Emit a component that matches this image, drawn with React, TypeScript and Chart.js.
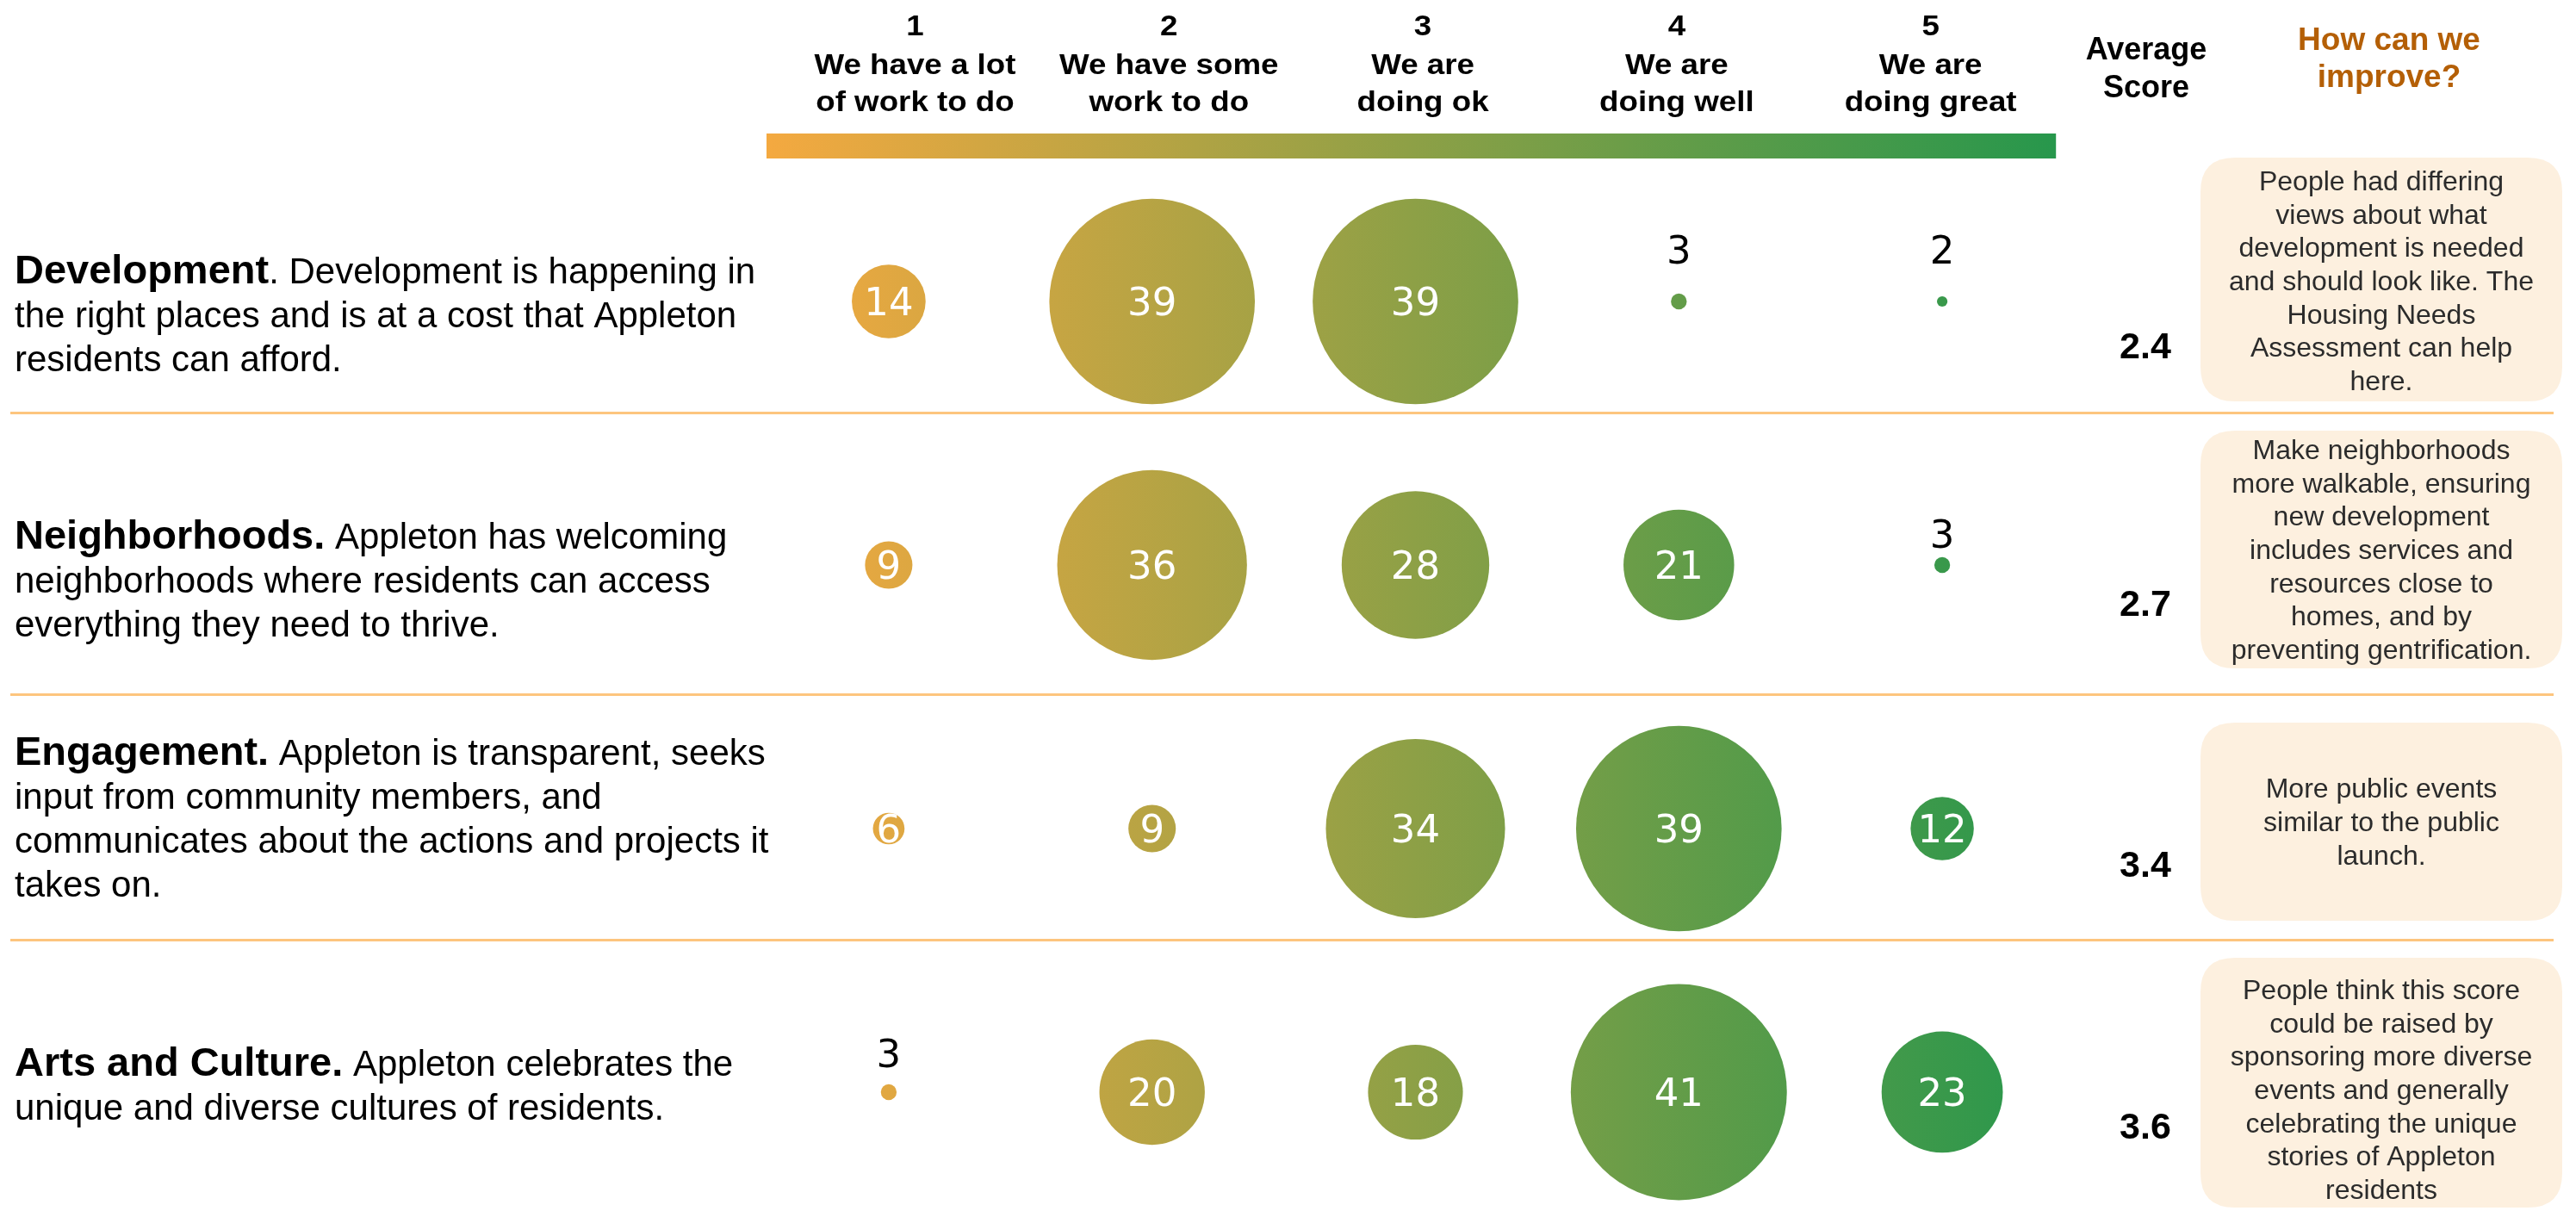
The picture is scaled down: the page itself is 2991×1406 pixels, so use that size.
import React, { useEffect, useRef } from 'react';
import { Chart, registerables } from 'chart.js';

Chart.register(...registerables);

// ---------- data ----------
const SCALE_NUMBERS = ['1', '2', '3', '4', '5'];
const SCALE_LABELS = [
  ['We have a lot', 'of work to do'],
  ['We have some', 'work to do'],
  ['We are', 'doing ok'],
  ['We are', 'doing well'],
  ['We are', 'doing great'],
];
const CATEGORIES = ['Development', 'Neighborhoods', 'Engagement', 'Arts and Culture'];
const DEVELOPMENT = [14, 39, 39, 3, 2];
const NEIGHBORHOODS = [9, 36, 28, 21, 3];
const ENGAGEMENT = [6, 9, 34, 39, 12];
const ARTS_AND_CULTURE = [3, 20, 18, 41, 23];
const AVERAGE_SCORES = ['2.4', '2.7', '3.4', '3.6'];
const ROW_TITLES = ['Development', 'Neighborhoods.', 'Engagement.', 'Arts and Culture.'];
const ROW_TEXT = [
  ['. Development is happening in', 'the right places and is at a cost that Appleton', 'residents can afford.'],
  [' Appleton has welcoming', 'neighborhoods where residents can access', 'everything they need to thrive.'],
  [' Appleton is transparent, seeks', 'input from community members, and', 'communicates about the actions and projects it', 'takes on.'],
  [' Appleton celebrates the', 'unique and diverse cultures of residents.'],
];
const IMPROVEMENTS = [
  ['People had differing', 'views about what', 'development is needed', 'and should look like. The', 'Housing Needs', 'Assessment can help', 'here.'],
  ['Make neighborhoods', 'more walkable, ensuring', 'new development', 'includes services and', 'resources close to', 'homes, and by', 'preventing gentrification.'],
  ['More public events', 'similar to the public', 'launch.'],
  ['People think this score', 'could be raised by', 'sponsoring more diverse', 'events and generally', 'celebrating the unique', 'stories of Appleton', 'residents'],
];
const SERIES = [DEVELOPMENT, NEIGHBORHOODS, ENGAGEMENT, ARTS_AND_CULTURE];

// ---------- layout / style ----------
const W = 2991;
const H = 1406;
const FONT = '"Liberation Sans", Arial, Helvetica, sans-serif';
const NUM_FONT = '"DejaVu Sans", sans-serif';
const BAR_START = 0.536;
const BAR_END = 5.432;
const RADIUS_PER_UNIT = 3.06;
const SEPARATOR_POS = [0.42, 1.49, 2.42];
const ROW_TEXT_DY = [-21, -19, -74, -19];
const SCORE_DY = [66, 59, 56, 54];
const BOX_TOP_DY = [-167, -156, -123, -156];
const BOX_BOTTOM_DY = [116, 120, 107, 134];
const BOX_TEXT_DY = [-24, -18, -8, -3];
const LABEL_DY = [-44, -20, -30, -29];
const GRAD_LEFT = '#f4a940';
const GRAD_RIGHT = '#27974c';

function makeGradient(ctx: CanvasRenderingContext2D, x0: number, x1: number) {
  const g = ctx.createLinearGradient(x0, 0, x1, 0);
  g.addColorStop(0, GRAD_LEFT);
  g.addColorStop(1, GRAD_RIGHT);
  return g;
}

function roundRect(ctx: CanvasRenderingContext2D, x: number, y: number, w: number, h: number, r: number) {
  ctx.beginPath();
  ctx.moveTo(x + r, y);
  ctx.lineTo(x + w - r, y);
  ctx.quadraticCurveTo(x + w, y, x + w, y + r);
  ctx.lineTo(x + w, y + h - r);
  ctx.quadraticCurveTo(x + w, y + h, x + w - r, y + h);
  ctx.lineTo(x + r, y + h);
  ctx.quadraticCurveTo(x, y + h, x, y + h - r);
  ctx.lineTo(x, y + r);
  ctx.quadraticCurveTo(x, y, x + r, y);
  ctx.closePath();
}

const overlayPlugin = {
  id: 'overlay',
  beforeDatasetsDraw(chart: any) {
    const ctx: CanvasRenderingContext2D = chart.ctx;
    const xs = chart.scales.x;
    const ys = chart.scales.y;
    ctx.save();

    // gradient bar
    const bx0 = xs.getPixelForValue(BAR_START);
    const bx1 = xs.getPixelForValue(BAR_END);
    ctx.fillStyle = makeGradient(ctx, bx0, bx1);
    ctx.fillRect(bx0, 155, bx1 - bx0, 29);

    // column headers
    ctx.fillStyle = '#000';
    ctx.textAlign = 'center';
    ctx.textBaseline = 'alphabetic';
    ctx.font = `bold 34px ${FONT}`;
    SCALE_NUMBERS.forEach((num, i) => {
      const cx = xs.getPixelForValue(1.1 + 0.964 * i);
      const lines = [num, ...SCALE_LABELS[i]];
      const bases = [41, 86, 129];
      lines.forEach((t, k) => {
        ctx.save();
        ctx.translate(cx, bases[k]);
        ctx.scale(1.08, 1);
        ctx.fillText(t, 0, 0);
        ctx.restore();
      });
    });

    // Average Score header
    ctx.font = `bold 36px ${FONT}`;
    ctx.fillStyle = '#000';
    ctx.fillText('Average', 2492, 69);
    ctx.fillText('Score', 2492, 113);

    // How can we improve header
    ctx.font = `bold 37px ${FONT}`;
    ctx.fillStyle = '#b45f06';
    ctx.fillText('How can we', 2774, 58);
    ctx.fillText('improve?', 2774, 101);

    // separators
    ctx.strokeStyle = '#fdc57e';
    ctx.lineWidth = 3;
    SEPARATOR_POS.forEach((p) => {
      const y = Math.round(ys.getPixelForValue(p)) + 0.5;
      ctx.beginPath();
      ctx.moveTo(12, y);
      ctx.lineTo(2965, y);
      ctx.stroke();
    });

    CATEGORIES.forEach((_, row) => {
      const cy = ys.getPixelForValue(row);

      // row description
      ctx.textAlign = 'left';
      ctx.fillStyle = '#000';
      const first = cy + ROW_TEXT_DY[row];
      ctx.font = `bold 47px ${FONT}`;
      ctx.fillText(ROW_TITLES[row], 17, first);
      const tw = ctx.measureText(ROW_TITLES[row]).width;
      ctx.font = `42px ${FONT}`;
      ROW_TEXT[row].forEach((line, k) => {
        if (k === 0) ctx.fillText(line, 17 + tw, first);
        else ctx.fillText(line, 17, first + k * 51);
      });

      // average score
      ctx.textAlign = 'center';
      ctx.font = `bold 43px ${FONT}`;
      ctx.fillText(AVERAGE_SCORES[row], 2491, cy + SCORE_DY[row]);

      // improvement box
      const lines = IMPROVEMENTS[row];
      const lh = 38.7;
      const top = cy + BOX_TOP_DY[row];
      const bottom = cy + BOX_BOTTOM_DY[row];
      ctx.fillStyle = '#fdf0df';
      roundRect(ctx, 2555, top, 420, bottom - top, 40);
      ctx.fill();
      ctx.fillStyle = '#2b2b2b';
      ctx.font = `32px ${FONT}`;
      const tc = cy + BOX_TEXT_DY[row];
      const l0 = tc - ((lines.length - 1) / 2) * lh;
      lines.forEach((t, k) => ctx.fillText(t, 2765, l0 + k * lh + 11));
    });

    ctx.restore();
  },
  afterDatasetsDraw(chart: any) {
    const ctx: CanvasRenderingContext2D = chart.ctx;
    const meta = chart.getDatasetMeta(0);
    const data = chart.data.datasets[0].data;
    ctx.save();
    ctx.font = `45px ${NUM_FONT}`;
    ctx.textAlign = 'center';
    ctx.textBaseline = 'alphabetic';
    meta.data.forEach((el: any, i: number) => {
      const p = data[i];
      if (p.v >= 5) {
        ctx.fillStyle = '#ffffff';
        ctx.fillText(String(p.v), el.x, el.y + 16);
      } else {
        ctx.fillStyle = '#000000';
        ctx.fillText(String(p.v), el.x, el.y + LABEL_DY[p.y]);
      }
    });
    ctx.restore();
  },
};

export default function App() {
  const ref = useRef<HTMLCanvasElement | null>(null);

  useEffect(() => {
    document.body.style.margin = '0';
    const canvas = ref.current;
    if (!canvas) return;
    const points = SERIES.flatMap((vals, row) => vals.map((v, col) => ({ x: col + 1, y: row, v })));
    const chart = new Chart(canvas, {
      type: 'bubble',
      data: {
        datasets: [
          {
            label: 'Responses',
            data: points as any,
            clip: false as any,
            borderWidth: 0,
            radius: (c: any) => (c.raw ? c.raw.v * RADIUS_PER_UNIT : 0),
            backgroundColor: (c: any) => {
              const ch = c.chart;
              const xs = ch.scales && ch.scales.x;
              if (!xs || !ch.chartArea) return '#8da046';
              return makeGradient(ch.ctx, xs.getPixelForValue(BAR_START), xs.getPixelForValue(BAR_END));
            },
          } as any,
        ],
      },
      options: {
        animation: false,
        responsive: false,
        devicePixelRatio: 1,
        events: [],
        layout: { autoPadding: false, padding: { left: 879, right: 583, top: 197, bottom: 0 } },
        plugins: { legend: { display: false }, tooltip: { enabled: false } },
        scales: {
          x: { type: 'linear', min: 0.5, max: 5.5, display: false },
          y: { type: 'linear', min: -0.5, max: 3.451, reverse: true, display: false },
        },
      },
      plugins: [overlayPlugin],
    });
    return () => chart.destroy();
  }, []);

  return (
    <div style={{ position: 'absolute', left: 0, top: 0, width: W, height: H, background: '#fff' }}>
      <canvas ref={ref} width={W} height={H} style={{ display: 'block', width: W, height: H }} />
    </div>
  );
}
